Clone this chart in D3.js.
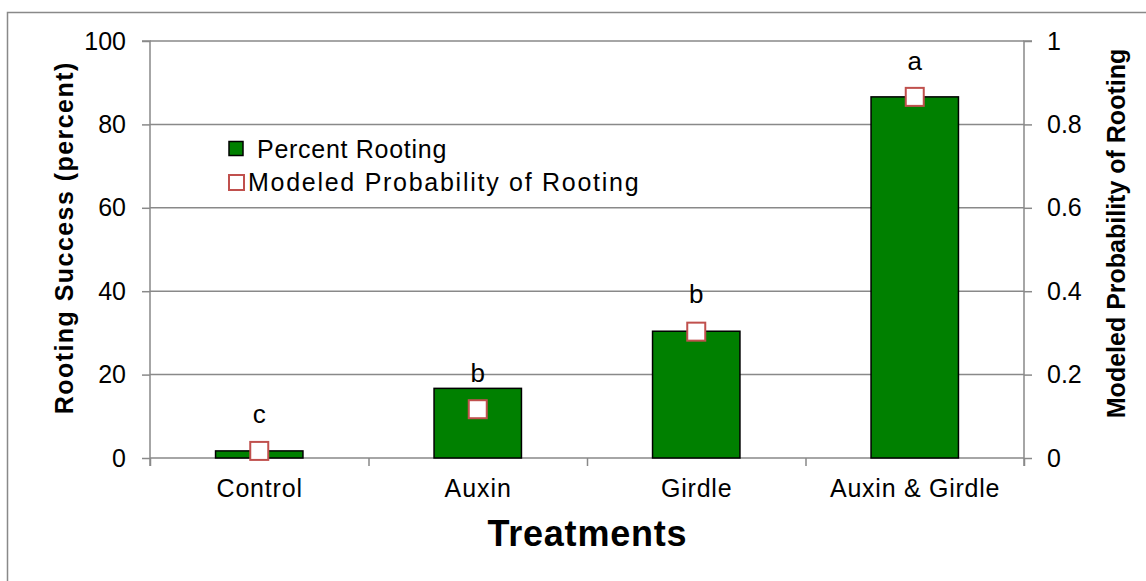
<!DOCTYPE html>
<html>
<head>
<meta charset="utf-8">
<script src="https://cdn.jsdelivr.net/npm/d3@7/dist/d3.min.js"></script>
<style>
  html, body { margin: 0; padding: 0; background: #fff; }
  svg { display: block; font-family: "Liberation Sans", Arial, sans-serif; }
</style>
</head>
<body>
<svg id="chart" width="1146" height="581"></svg>
<script>
const categories = ["Control", "Auxin", "Girdle", "Auxin & Girdle"];
const percentRooting = [1.7, 16.7, 30.4, 86.6];
const modeledProbability = [0.017, 0.117, 0.303, 0.866];
const sigLetters = ["c", "b", "b", "a"];
const sigLetterLevel = [8.4, 18.2, 37.2, 93.0];
const leftTicks = [0, 20, 40, 60, 80, 100];
const rightTicks = [0, 0.2, 0.4, 0.6, 0.8, 1];
const rightTickLabels = ["0", "0.2", "0.4", "0.6", "0.8", "1"];

(function () {
const svg = d3.select("#chart");
const pLeft = 150, pRight = 1024, pTop = 41, pBottom = 458;
const gray = "#898989";

// widen text a little (the reference's text is set with wider advances)
function widen(sel, factor) {
  sel.each(function () {
    const w = this.getComputedTextLength();
    d3.select(this).attr("textLength", w * factor).attr("lengthAdjust", "spacing");
  });
  return sel;
}

// outer frame (extends past the bottom/right of the picture)
svg.append("path")
  .attr("d", `M7.5,590 L7.5,12.5 L1160,12.5`)
  .attr("fill", "none").attr("stroke", gray).attr("stroke-width", 1.5);

const x = d3.scaleBand().domain(categories).range([pLeft, pRight]).paddingInner(0.6).paddingOuter(0.3);
const xOuter = d3.scaleBand().domain(categories).range([pLeft, pRight]).padding(0);
const yL = d3.scaleLinear().domain([0, 100]).range([pBottom, pTop]);
const yR = d3.scaleLinear().domain([0, 1]).range([pBottom, pTop]);

// gridlines
svg.append("g").selectAll("line").data(leftTicks.filter(d => d > 0)).join("line")
  .attr("x1", pLeft).attr("x2", pRight)
  .attr("y1", d => yL(d)).attr("y2", d => yL(d))
  .attr("stroke", gray).attr("stroke-width", 1.5);

// left axis
const gL = svg.append("g").attr("transform", `translate(${pLeft},0)`)
  .call(d3.axisLeft(yL).tickValues(leftTicks).tickSize(8).tickPadding(16).tickFormat(d3.format("d")));
// right axis
const gR = svg.append("g").attr("transform", `translate(${pRight},0)`)
  .call(d3.axisRight(yR).tickValues(rightTicks).tickSize(8).tickPadding(15).tickFormat((d, i) => rightTickLabels[i]));
// bottom axis (ticks at category boundaries)
const boundaries = categories.map(c => xOuter(c)).concat([pRight]);
const gB = svg.append("g").attr("transform", `translate(0,${pBottom})`)
  .call(d3.axisBottom(d3.scaleLinear().domain([pLeft, pRight]).range([pLeft, pRight]))
    .tickValues(boundaries).tickSize(8).tickFormat(""));

[gL, gR, gB].forEach(g => {
  g.select(".domain").attr("stroke", gray).attr("stroke-width", 1.5);
  g.selectAll(".tick line").attr("stroke", gray).attr("stroke-width", 1.5);
  g.selectAll("text").attr("font-size", 25).attr("fill", "#000")
    .attr("font-family", "Liberation Sans, Arial, sans-serif");
});
gL.select(".domain").attr("d", `M-8,${pTop}H0V${pBottom + 8}`);
gR.select(".domain").attr("d", `M8,${pTop}H0V${pBottom + 8}`);
gB.select(".domain").attr("d", `M${pLeft},0H${pRight}`);

// category labels
widen(svg.append("g").selectAll("text").data(categories).join("text")
  .attr("x", d => x(d) + x.bandwidth() / 2).attr("y", 497)
  .attr("text-anchor", "middle").attr("font-size", 25).text(d => d), 1.06);

// bars
svg.append("g").selectAll("rect").data(categories).join("rect")
  .attr("x", d => x(d)).attr("width", x.bandwidth())
  .attr("y", (d, i) => yL(percentRooting[i]))
  .attr("height", (d, i) => pBottom - yL(percentRooting[i]))
  .attr("fill", "#008000").attr("stroke", "#000").attr("stroke-width", 1.5);

// markers
const ms = 18;
svg.append("g").selectAll("rect").data(categories).join("rect")
  .attr("x", d => x(d) + x.bandwidth() / 2 - ms / 2)
  .attr("y", (d, i) => yR(modeledProbability[i]) - ms / 2)
  .attr("width", ms).attr("height", ms)
  .attr("fill", "#fff").attr("stroke", "#c0504d").attr("stroke-width", 2);

// significance letters
svg.append("g").selectAll("text").data(categories).join("text")
  .attr("x", d => x(d) + x.bandwidth() / 2)
  .attr("y", (d, i) => yL(sigLetterLevel[i]))
  .attr("text-anchor", "middle").attr("font-size", 26).text((d, i) => sigLetters[i]);

// legend
const lg = svg.append("g");
lg.append("rect").attr("x", 229).attr("y", 141.5).attr("width", 14).attr("height", 14)
  .attr("fill", "#008000").attr("stroke", "#000").attr("stroke-width", 1.5);
widen(lg.append("text").attr("x", 257).attr("y", 158).attr("font-size", 25).text("Percent Rooting"), 1.056);
lg.append("rect").attr("x", 229).attr("y", 175).attr("width", 15).attr("height", 15)
  .attr("fill", "#fff").attr("stroke", "#c0504d").attr("stroke-width", 2);
widen(lg.append("text").attr("x", 248).attr("y", 191).attr("font-size", 25).text("Modeled Probability of Rooting"), 1.147);

// axis titles
widen(svg.append("text").attr("transform", `translate(73,238.5) rotate(-90)`)
  .attr("text-anchor", "middle").attr("font-size", 25).attr("font-weight", "bold")
  .text("Rooting Success (percent)"), 1.11);
svg.append("text").attr("transform", `translate(1125,233.5) rotate(-90)`)
  .attr("text-anchor", "middle").attr("font-size", 25).attr("font-weight", "bold")
  .text("Modeled Probability of Rooting");
widen(svg.append("text").attr("x", (pLeft + pRight) / 2).attr("y", 546)
  .attr("text-anchor", "middle").attr("font-size", 36).attr("font-weight", "bold")
  .text("Treatments"), 1.037);
})();
</script>
</body>
</html>
